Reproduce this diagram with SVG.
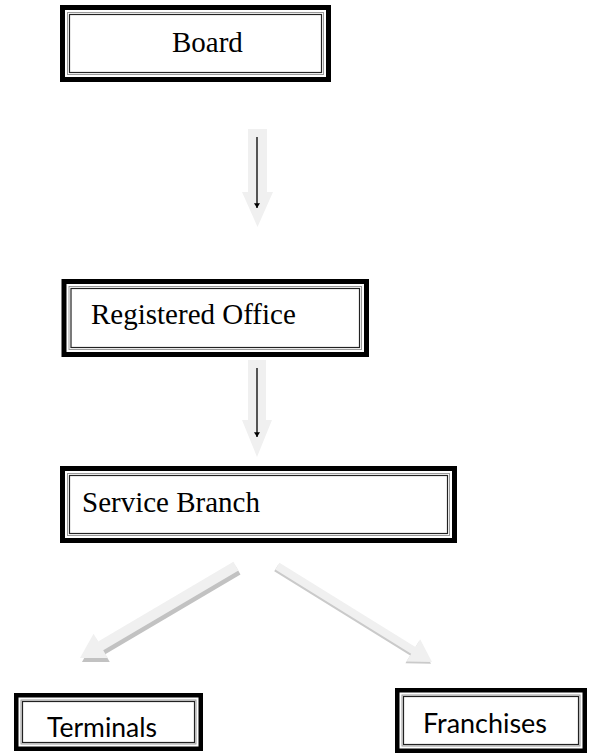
<svg xmlns="http://www.w3.org/2000/svg" width="592" height="755" viewBox="0 0 592 755">
<style>
.bg{fill:#ffffff}
.outer{fill:none;stroke:#000;stroke-width:5}
.outer-s{fill:none;stroke:#000;stroke-width:4.5}
.gray{fill:none;stroke:#9a9a9a;stroke-width:1}
.inner{fill:none;stroke:#222;stroke-width:1.2}
.serif{font-family:"Liberation Serif","Times New Roman",serif;font-size:29px;fill:#000}
.sans{font-family:Lato,"Liberation Sans",sans-serif;font-size:27px;fill:#000}
.block{fill:#f0f0f0}
.shadow{fill:#c2c2c2}
.shadow2{fill:#cacaca}
.thin{stroke:#000;stroke-width:1.3;fill:none}
</style>
<defs>
<marker id="ah" viewBox="0 0 8 10" refX="8" refY="5" markerWidth="5" markerHeight="6" markerUnits="userSpaceOnUse" orient="auto">
<path d="M0,0 L8,5 L0,10 Z" fill="#000"/>
</marker>
<polygon id="diagL" points="0,0 24,-14 24,-5 181,-5 181,5 24,5 24,14"/>
<polygon id="diagR" points="0,0 22,-13 22,-4 182,-4 182,4 22,4 22,13"/>
</defs>
<rect class="bg" x="0" y="0" width="592" height="755"/>

<g id="connectors">
  <g id="arrow-board-registered">
    <polygon class="block" points="248,129 267,129 267,192 273,192 257.5,227 242,192 248,192"/>
    <line class="thin" x1="257" y1="137" x2="257" y2="208" marker-end="url(#ah)"/>
  </g>
  <g id="arrow-registered-service">
    <polygon class="block" points="248,360 266,360 266,420 272,420 257,457 242,420 248,420"/>
    <line class="thin" x1="257" y1="368" x2="257" y2="437" marker-end="url(#ah)"/>
  </g>
  <g id="arrow-service-terminals">
    <use href="#diagL" class="shadow" transform="translate(2,4) translate(80,658) rotate(-30.5)"/>
    <use href="#diagL" class="block" transform="translate(80,658) rotate(-30.5)"/>
  </g>
  <g id="arrow-service-franchises">
    <use href="#diagR" class="shadow2" transform="translate(-1,1.8) translate(432,662) rotate(-148.2)"/>
    <use href="#diagR" class="block" transform="translate(432,662) rotate(-148.2)"/>
  </g>
</g>

<g id="board">
  <rect class="outer" x="62.5" y="7.5" width="266" height="72"/>
  <rect class="gray" x="67.5" y="12.5" width="256" height="62"/>
  <rect class="inner" x="69.5" y="14.5" width="252" height="58"/>
  <text class="serif" x="172" y="52">Board</text>
</g>

<g id="registered-office">
  <rect class="outer" x="64" y="281.5" width="302.5" height="73"/>
  <rect class="gray" x="69" y="286.5" width="292.5" height="63"/>
  <rect class="inner" x="71" y="288.5" width="288.5" height="59"/>
  <text class="serif" x="91" y="324">Registered Office</text>
</g>

<g id="service-branch">
  <rect class="outer" x="62.5" y="468.5" width="392" height="72"/>
  <rect class="gray" x="67.5" y="473.5" width="382" height="62"/>
  <rect class="inner" x="69.5" y="475.5" width="378" height="58"/>
  <text class="serif" x="82" y="512">Service Branch</text>
</g>

<g id="terminals">
  <rect class="outer-s" x="16.25" y="695.25" width="184.5" height="53.5"/>
  <rect class="gray" x="21" y="700" width="175" height="44"/>
  <rect class="inner" x="22.5" y="701.5" width="172" height="41"/>
  <text class="sans" x="47" y="737" textLength="110" lengthAdjust="spacingAndGlyphs">Terminals</text>
</g>

<g id="franchises">
  <rect class="outer-s" x="397.25" y="690.25" width="187.5" height="60.5"/>
  <rect class="gray" x="402" y="695" width="178" height="51"/>
  <rect class="inner" x="403.5" y="696.5" width="175" height="48"/>
  <text class="sans" x="423" y="733" textLength="124" lengthAdjust="spacingAndGlyphs">Franchises</text>
</g>
</svg>
